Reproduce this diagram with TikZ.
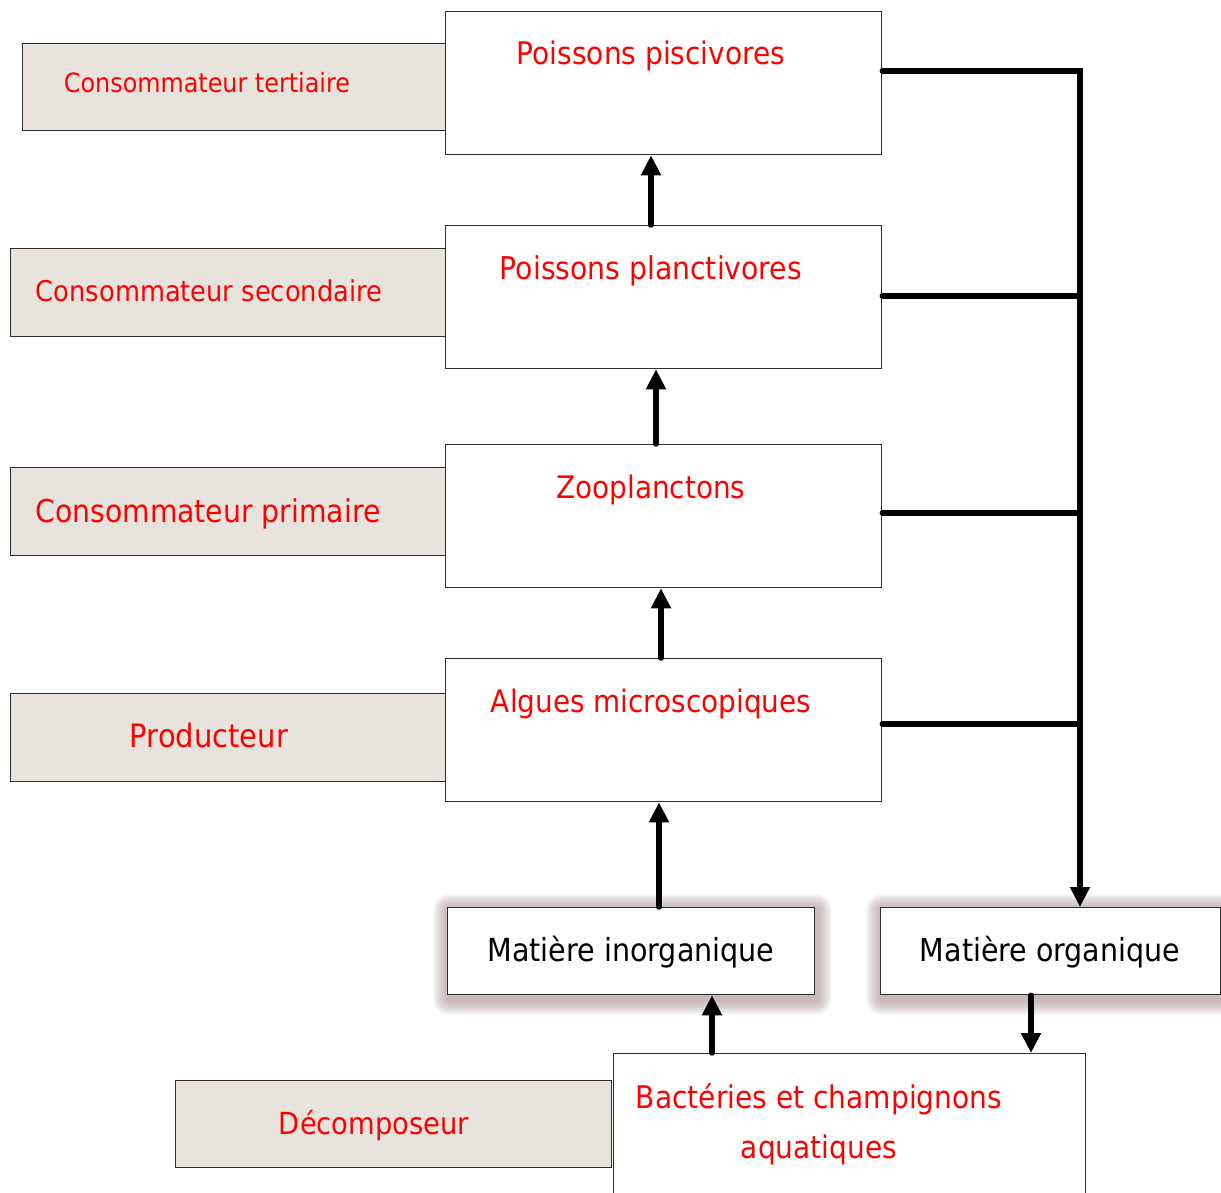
\documentclass[tikz,border=0pt]{standalone}
\usepackage{fontspec}
\setmainfont{DejaVu Sans Condensed}
\usetikzlibrary{arrows.meta,calc}
\definecolor{lvl}{HTML}{E8E4DD}
\definecolor{bord}{HTML}{2E2E2E}
\definecolor{shd}{HTML}{A08C8C}
\newcommand{\fitw}[2]{\resizebox{#1pt}{!}{#2}}
\begin{document}
\begin{tikzpicture}[x=1pt,y=-1pt,
 levelbox/.style={draw=bord,line width=1.3pt,fill=lvl,inner sep=0,anchor=north west},
 whitebox/.style={draw=bord,line width=1.3pt,fill=white,inner sep=0,anchor=north west},
 redtxt/.style={text=red,inner sep=0,anchor=base},
 blktxt/.style={text=black,inner sep=0,anchor=base},
 arr/.style={line width=5.5pt,-{Triangle[width=19pt,length=20pt]},line cap=round},
 bus/.style={line width=5.5pt,line cap=round}]
\useasboundingbox (0,0) rectangle (1221,1193);

% level boxes (left)
\node[levelbox,minimum width=423pt,minimum height=87pt] (lt) at (22,43) {};
\node[levelbox,minimum width=435pt,minimum height=88pt] (ls) at (10,248) {};
\node[levelbox,minimum width=435pt,minimum height=88pt] (lp) at (10,467) {};
\node[levelbox,minimum width=435pt,minimum height=88pt] (lprod) at (10,693) {};
\node[levelbox,minimum width=436pt,minimum height=87pt] (ldec) at (175,1080) {};

% organism boxes
\node[whitebox,minimum width=436pt,minimum height=143pt] (pisc) at (445,11) {};
\node[whitebox,minimum width=436pt,minimum height=143pt] (plan) at (445,225) {};
\node[whitebox,minimum width=436pt,minimum height=143pt] (zoo) at (445,444) {};
\node[whitebox,minimum width=436pt,minimum height=143pt] (alg) at (445,658) {};

% shadows of matter boxes
\foreach \i in {2,3,...,16}{
  \fill[shd,opacity=0.06,rounded corners=\i pt] ({447-\i+2},{907-\i+3}) rectangle ({814+\i+2},{994+\i+5});
  \fill[shd,opacity=0.06,rounded corners=\i pt] ({880-\i+2},{907-\i+3}) rectangle ({1220+\i+2},{994+\i+5});
}
\node[whitebox,minimum width=367pt,minimum height=87pt] (mi) at (447,907) {};
\node[whitebox,minimum width=340pt,minimum height=87pt] (mo) at (880,907) {};
\node[whitebox,minimum width=472pt,minimum height=160pt] (bac) at (613,1053) {};

% texts
\node[redtxt] (tlt) at (207,93) {\fitw{286}{Consommateur tertiaire}};
\node[redtxt] (tls) at (209,301) {\fitw{346}{Consommateur secondaire}};
\node[redtxt] (tlp) at (208,522) {\fitw{345}{Consommateur primaire}};
\node[redtxt] (tlprod) at (209,747) {\fitw{158}{Producteur}};
\node[redtxt] (tldec) at (374,1134) {\fitw{190}{Décomposeur}};
\node[redtxt] (tpisc) at (651,65) {\fitw{268}{Poissons piscivores}};
\node[redtxt] (tplan) at (651,279) {\fitw{302}{Poissons planctivores}};
\node[redtxt] (tzoo) at (651,498) {\fitw{189}{Zooplanctons}};
\node[redtxt] (talg) at (651,712) {\fitw{320}{Algues microscopiques}};
\node[blktxt] (tmi) at (631,961) {\fitw{287}{Matière inorganique}};
\node[blktxt] (tmo) at (1050,961) {\fitw{260}{Matière organique}};
\node[redtxt] (tbac1) at (819,1108) {\fitw{366}{Bactéries et champignons}};
\node[redtxt] (tbac2) at (819,1158) {\fitw{156}{aquatiques}};

% upward arrows
\draw[arr] (651,0 |- plan.north) -- (651,0 |- pisc.south);
\draw[arr] (656,0 |- zoo.north) -- (656,0 |- plan.south);
\draw[arr] (661,0 |- alg.north) -- (661,0 |- zoo.south);
\draw[arr] (659,0 |- mi.north) -- (659,0 |- alg.south);
\draw[arr] (712,0 |- bac.north) -- (712,0 |- mi.south);
\draw[arr] (1031,0 |- mo.south) -- (1031,0 |- bac.north);

% organic matter collector
\draw[arr,line join=miter] (pisc.east |- 0,71) -- (1080,71) -- (1080,0 |- mo.north);
\draw[bus] (plan.east |- 0,296) -- (1080,296);
\draw[bus] (zoo.east |- 0,513) -- (1080,513);
\draw[bus] (alg.east |- 0,724) -- (1080,724);
\end{tikzpicture}
\end{document}
